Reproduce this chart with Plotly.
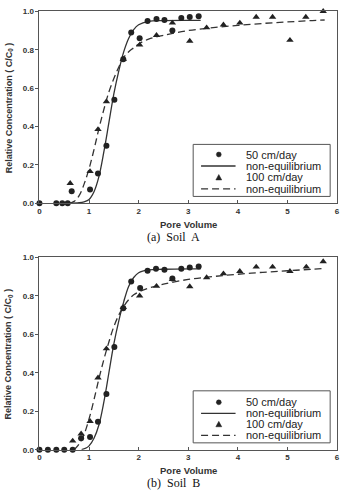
import plotly.graph_objects as go

# ---------------- data: Soil A ----------------
a_pv50 = [0.0, 0.34, 0.46, 0.57, 0.65, 1.02, 1.18, 1.35, 1.51, 1.69, 1.85, 2.02, 2.18, 2.36, 2.52, 2.68, 2.86, 3.03, 3.21]
a_c50 = [0.0, 0.0, 0.0, 0.0, 0.063, 0.072, 0.155, 0.30, 0.54, 0.75, 0.89, 0.86, 0.95, 0.96, 0.955, 0.90, 0.965, 0.97, 0.975]
a_pv100 = [0.62, 1.02, 1.18, 1.35, 1.69, 2.02, 2.36, 2.68, 3.03, 3.37, 3.71, 4.04, 4.37, 4.70, 5.05, 5.37, 5.72]
a_c100 = [0.104, 0.166, 0.385, 0.53, 0.75, 0.825, 0.875, 0.94, 0.845, 0.915, 0.93, 0.94, 0.97, 0.97, 0.85, 0.97, 1.0]
a_fit50_pv = [0.6, 0.8, 0.9, 1.0, 1.1, 1.2, 1.3, 1.4, 1.5, 1.6, 1.7, 1.8, 1.9, 2.0, 2.2, 2.5, 3.0, 3.25]
a_fit50_c = [0.0, 0.003, 0.008, 0.02, 0.06, 0.14, 0.27, 0.42, 0.57, 0.69, 0.79, 0.86, 0.905, 0.93, 0.948, 0.952, 0.953, 0.953]
a_fit100_pv = [0.6, 0.7, 0.8, 0.9, 1.0, 1.1, 1.2, 1.3, 1.4, 1.5, 1.6, 1.7, 1.8, 1.9, 2.0, 2.2, 2.5, 3.0, 3.5, 4.0, 4.5, 5.0, 5.5, 5.75]
a_fit100_c = [0.0, 0.01, 0.04, 0.1, 0.18, 0.28, 0.39, 0.49, 0.58, 0.65, 0.71, 0.76, 0.79, 0.81, 0.83, 0.855, 0.875, 0.9, 0.915, 0.927, 0.937, 0.945, 0.952, 0.955]

# ---------------- data: Soil B ----------------
b_pv50 = [0.0, 0.17, 0.34, 0.50, 0.67, 0.84, 1.02, 1.18, 1.35, 1.51, 1.69, 1.85, 2.03, 2.18, 2.35, 2.52, 2.68, 2.86, 3.03, 3.21]
b_c50 = [0.0, 0.0, 0.0, 0.0, 0.0, 0.06, 0.066, 0.145, 0.29, 0.534, 0.735, 0.874, 0.84, 0.93, 0.94, 0.935, 0.89, 0.94, 0.947, 0.952]
b_pv100 = [0.67, 0.84, 1.02, 1.18, 1.35, 1.69, 2.02, 2.36, 2.68, 3.03, 3.37, 3.71, 4.04, 4.37, 4.70, 5.05, 5.38, 5.72]
b_c100 = [0.046, 0.083, 0.148, 0.374, 0.525, 0.74, 0.80, 0.85, 0.885, 0.848, 0.895, 0.915, 0.927, 0.95, 0.95, 0.927, 0.95, 0.978]
b_fit50_pv = [0.85, 0.95, 1.0, 1.1, 1.2, 1.3, 1.4, 1.5, 1.6, 1.7, 1.8, 1.9, 2.0, 2.2, 2.5, 3.0, 3.25]
b_fit50_c = [0.0, 0.01, 0.02, 0.06, 0.13, 0.25, 0.40, 0.55, 0.67, 0.77, 0.85, 0.895, 0.92, 0.935, 0.938, 0.94, 0.94]
b_fit100_pv = [0.7, 0.8, 0.9, 1.0, 1.1, 1.2, 1.3, 1.4, 1.5, 1.6, 1.7, 1.8, 1.9, 2.0, 2.2, 2.5, 3.0, 3.5, 4.0, 4.5, 5.0, 5.5, 5.75]
b_fit100_c = [0.0, 0.03, 0.08, 0.16, 0.26, 0.37, 0.47, 0.56, 0.64, 0.70, 0.745, 0.78, 0.805, 0.82, 0.84, 0.86, 0.885, 0.9, 0.912, 0.922, 0.93, 0.938, 0.942]

legend_labels = ["50 cm/day", "non-equilibrium", "100 cm/day", "non-equilibrium"]
captions = ["(a)  Soil  A", "(b)  Soil  B"]
x_ticks = [0, 1, 2, 3, 4, 5, 6]
y_ticks = [0.0, 0.2, 0.4, 0.6, 0.8, 1.0]

W, H = 344, 494
def px(x):
    return x / W
def py(y):
    return 1 - y / H

INK = "#222222"
LINE = "#333333"

fig = go.Figure()

panels = [
    dict(xa="x", ya="y", pv50=a_pv50, c50=a_c50, pv100=a_pv100, c100=a_c100,
         f50x=a_fit50_pv, f50y=a_fit50_c, f100x=a_fit100_pv, f100y=a_fit100_c,
         top=7.5, bot=203, leg_top=143, leg_bot=196, rows=[153.3, 165, 176.7, 188.3],
         cap_y=237, xt_y=225),
    dict(xa="x2", ya="y2", pv50=b_pv50, c50=b_c50, pv100=b_pv100, c100=b_c100,
         f50x=b_fit50_pv, f50y=b_fit50_c, f100x=b_fit100_pv, f100y=b_fit100_c,
         top=258, bot=454, leg_top=394, leg_bot=447, rows=[405.7, 416.9, 428.1, 439.3],
         cap_y=488, xt_y=475),
]

shapes = []
annotations = []
for i, p in enumerate(panels):
    fig.add_trace(go.Scatter(x=p["f50x"], y=p["f50y"], mode="lines", xaxis=p["xa"], yaxis=p["ya"],
                             line=dict(color=LINE, width=1.3), showlegend=False, line_shape="spline"))
    fig.add_trace(go.Scatter(x=p["f100x"], y=p["f100y"], mode="lines", xaxis=p["xa"], yaxis=p["ya"],
                             line=dict(color=LINE, width=1.3, dash="7px,4px"), showlegend=False,
                             line_shape="spline"))
    fig.add_trace(go.Scatter(x=p["pv50"], y=p["c50"], mode="markers", xaxis=p["xa"], yaxis=p["ya"],
                             marker=dict(symbol="circle", size=6, color=INK), showlegend=False,
                             cliponaxis=False))
    fig.add_trace(go.Scatter(x=p["pv100"], y=p["c100"], mode="markers", xaxis=p["xa"], yaxis=p["ya"],
                             marker=dict(symbol="triangle-up", size=6.5, color=INK), showlegend=False,
                             cliponaxis=False))

    # legend box
    shapes.append(dict(type="rect", xref="paper", yref="paper", x0=px(194), x1=px(333),
                       y0=py(p["leg_bot"]), y1=py(p["leg_top"]), line=dict(color="#555555", width=1),
                       fillcolor="white", layer="above"))
    r = p["rows"]
    shapes.append(dict(type="line", xref="paper", yref="paper", x0=px(202), x1=px(237),
                       y0=py(r[1]), y1=py(r[1]), line=dict(color=LINE, width=1.3), layer="above"))
    shapes.append(dict(type="line", xref="paper", yref="paper", x0=px(202), x1=px(237),
                       y0=py(r[3]), y1=py(r[3]), line=dict(color=LINE, width=1.3, dash="7px,4px"),
                       layer="above"))
    # legend symbols
    shapes.append(dict(type="circle", xref="paper", yref="paper", x0=px(217.5), x1=px(222.5),
                       y0=py(r[0] + 2.5), y1=py(r[0] - 2.5), line=dict(color=INK, width=0.5),
                       fillcolor=INK, layer="above"))
    tx, ty = 220, r[2]
    shapes.append(dict(type="path", xref="paper", yref="paper",
                       path=f"M {px(tx-3)} {py(ty+2.5)} L {px(tx+3)} {py(ty+2.5)} L {px(tx)} {py(ty-3)} Z",
                       line=dict(color=INK, width=0.5), fillcolor=INK, layer="above"))
    for lab, ry in zip(legend_labels, r):
        annotations.append(dict(text=lab, x=px(246), y=py(ry), xref="paper", yref="paper",
                                showarrow=False, xanchor="left", yanchor="middle",
                                font=dict(family="Liberation Sans, Arial", size=11, color=INK)))
    # axis titles
    annotations.append(dict(text="<b>Pore Volume</b>", x=px(189), y=py(p["xt_y"]), xref="paper", yref="paper",
                            showarrow=False, xanchor="center", yanchor="middle",
                            font=dict(family="Liberation Sans, Arial", size=9.5, color="#333333")))
    annotations.append(dict(text="<b>Relative Concentration ( C/C<sub>0</sub> )</b>", x=px(7),
                            y=py((p["top"] + p["bot"]) / 2), xref="paper", yref="paper", textangle=-90,
                            showarrow=False, xanchor="center", yanchor="middle",
                            font=dict(family="Liberation Sans, Arial", size=9, color="#333333")))
    annotations.append(dict(text=captions[i], x=px(174), y=py(p["cap_y"]), xref="paper", yref="paper",
                            showarrow=False, xanchor="center", yanchor="middle",
                            font=dict(family="Liberation Serif, Times New Roman", size=12, color="#111111")))

axis_common = dict(showline=True, linecolor="#555555", linewidth=1, mirror=True, showgrid=False,
                   zeroline=False, ticklen=3, tickcolor="#555555",
                   tickfont=dict(family="Liberation Sans, Arial", size=8, color="#333333", weight="bold"))

fig.update_layout(
    width=W, height=H, margin=dict(l=0, r=0, t=0, b=0),
    paper_bgcolor="white", plot_bgcolor="white",
    showlegend=False,
    xaxis=dict(domain=[px(38), px(340)], anchor="y", range=[0, 6], tickvals=x_ticks, ticks="inside", **axis_common),
    yaxis=dict(domain=[py(203), py(7.5)], anchor="x", range=[0, 1], tickvals=y_ticks, tickformat=".1f",
               ticks="outside", **axis_common),
    xaxis2=dict(domain=[px(38), px(340)], anchor="y2", range=[0, 6], tickvals=x_ticks, ticks="inside", **axis_common),
    yaxis2=dict(domain=[py(454), py(258)], anchor="x2", range=[0, 1], tickvals=y_ticks, tickformat=".1f",
                ticks="outside", **axis_common),
    shapes=shapes, annotations=annotations,
)

fig.write_html("out.html")
